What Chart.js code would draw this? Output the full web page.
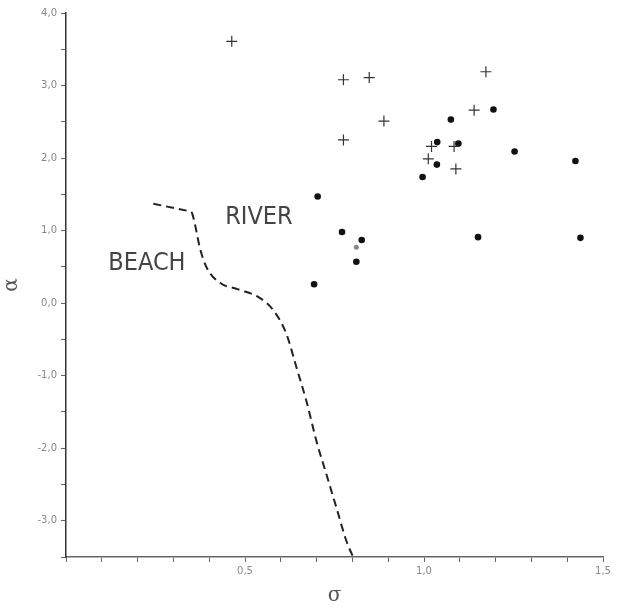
<!DOCTYPE html>
<html>
<head>
<meta charset="utf-8">
<script src="https://cdn.jsdelivr.net/npm/chart.js@4"></script>
<style>
  html, body { margin: 0; padding: 0; background: #fff; }
  #wrap { width: 622px; height: 608px; }
</style>
</head>
<body>
<div id="wrap"><canvas id="chart" width="622" height="608"></canvas></div>
<script>
//-------------------- DATA --------------------
// sigma / alpha pairs
const riverSigma = [0.463, 0.775, 0.847, 1.173, 1.140, 0.888, 0.775, 1.021, 1.084, 1.012, 1.089];
const riverAlpha = [3.61, 3.08, 3.11, 3.19, 2.66, 2.51, 2.25, 2.16, 2.16, 1.99, 1.85];

const beachSigma = [1.075, 1.194, 1.037, 1.096, 1.036, 0.996, 1.253, 1.423, 0.703, 0.771, 0.826, 0.811, 0.693, 1.151, 1.437];
const beachAlpha = [2.53, 2.67, 2.22, 2.20, 1.91, 1.74, 2.09, 1.96, 1.47, 0.98, 0.87, 0.57, 0.26, 0.91, 0.90];

// faint grey point
const greySigma = [0.811];
const greyAlpha = [0.77];

// dashed boundary line
const lineSigma = [0.244, 0.342, 0.351, 0.360, 0.374, 0.393, 0.430, 0.481, 0.542, 0.584, 0.616, 0.644, 0.672, 0.700, 0.728, 0.756, 0.784, 0.804];
const lineAlpha = [1.37, 1.27, 1.25, 1.09, 0.76, 0.49, 0.28, 0.19, 0.07, -0.13, -0.43, -0.89, -1.36, -1.91, -2.37, -2.83, -3.29, -3.52];

// region labels (data coordinates)
const regionNames = ['BEACH', 'RIVER'];
const regionSigma = [0.226, 0.539];
const regionAlpha = [0.54, 1.18];

const pairs = (xs, ys) => xs.map((x, i) => ({ x: x, y: ys[i] }));

//-------------------- PLUGIN: region labels --------------------
const regionLabels = {
    id: 'regionLabels',
    afterDatasetsDraw(chart) {
        const ctx = chart.ctx;
        const xs = chart.scales.x, ys = chart.scales.y;
        ctx.save();
        ctx.fillStyle = '#444';
        ctx.font = '25px "Liberation Sans Narrow", "DejaVu Sans Condensed", sans-serif';
        ctx.textAlign = 'center';
        ctx.textBaseline = 'middle';
        regionNames.forEach((name, i) => {
            ctx.fillText(name, xs.getPixelForValue(regionSigma[i]), ys.getPixelForValue(regionAlpha[i]));
        });
        ctx.restore();
    }
};

//-------------------- CONFIG --------------------
const tickFont = { family: 'DejaVu Sans', size: 10 };

const config = {
    type: 'scatter',
    data: {
        datasets: [
            {
                label: 'boundary',
                data: pairs(lineSigma, lineAlpha),
                showLine: true,
                borderColor: '#222',
                borderWidth: 2,
                borderDash: [8, 5],
                pointRadius: 0,
                cubicInterpolationMode: 'monotone',
                fill: false
            },
            {
                label: 'river',
                data: pairs(riverSigma, riverAlpha),
                pointStyle: 'cross',
                pointRadius: 5.5,
                borderColor: '#333',
                borderWidth: 1.2,
                backgroundColor: '#333'
            },
            {
                label: 'beach',
                data: pairs(beachSigma, beachAlpha),
                pointStyle: 'circle',
                pointRadius: 3.3,
                borderWidth: 0,
                backgroundColor: '#111'
            },
            {
                label: 'grey',
                data: pairs(greySigma, greyAlpha),
                pointStyle: 'circle',
                pointRadius: 2.5,
                borderWidth: 0,
                backgroundColor: '#888'
            }
        ]
    },
    options: {
        responsive: false,
        animation: false,
        layout: { padding: { left: 0, right: 19, top: 13, bottom: 0 } },
        plugins: {
            legend: { display: false },
            tooltip: { enabled: false }
        },
        scales: {
            x: {
                type: 'linear',
                min: 0,
                max: 1.5,
                afterFit(scale) { scale.height = 51; },
                border: { color: '#666', width: 1.5 },
                grid: { drawOnChartArea: false, tickLength: 5, color: '#666' },
                ticks: {
                    stepSize: 0.1,
                    color: '#888',
                    font: tickFont,
                    maxRotation: 0,
                    autoSkip: false,
                    padding: 3,
                    callback: (v) => {
                        const h = v * 2;
                        if (v > 0.01 && Math.abs(h - Math.round(h)) < 1e-6) return v.toFixed(1).replace('.', ',');
                        return '';
                    }
                },
                title: {
                    display: true,
                    text: 'σ',
                    color: '#555',
                    font: { family: 'DejaVu Serif', size: 20 },
                    padding: { top: 4, bottom: 0 }
                }
            },
            y: {
                type: 'linear',
                min: -3.5,
                max: 4.0,
                afterFit(scale) { scale.width = 66; },
                border: { color: '#333', width: 1.5 },
                grid: { drawOnChartArea: false, tickLength: 5, color: '#666' },
                ticks: {
                    stepSize: 0.5,
                    color: '#888',
                    font: tickFont,
                    autoSkip: false,
                    padding: 4,
                    callback: (v) => {
                        if (Math.abs(v - Math.round(v)) < 1e-6) return v.toFixed(1).replace('.', ',');
                        return '';
                    }
                },
                title: {
                    display: true,
                    text: 'α',
                    color: '#555',
                    font: { family: 'DejaVu Serif', size: 20 },
                    padding: { top: 0, bottom: 4 }
                }
            }
        }
    },
    plugins: [regionLabels]
};

//-------------------- RENDER --------------------
const myChart = new Chart(document.getElementById('chart'), config);
</script>
</body>
</html>
